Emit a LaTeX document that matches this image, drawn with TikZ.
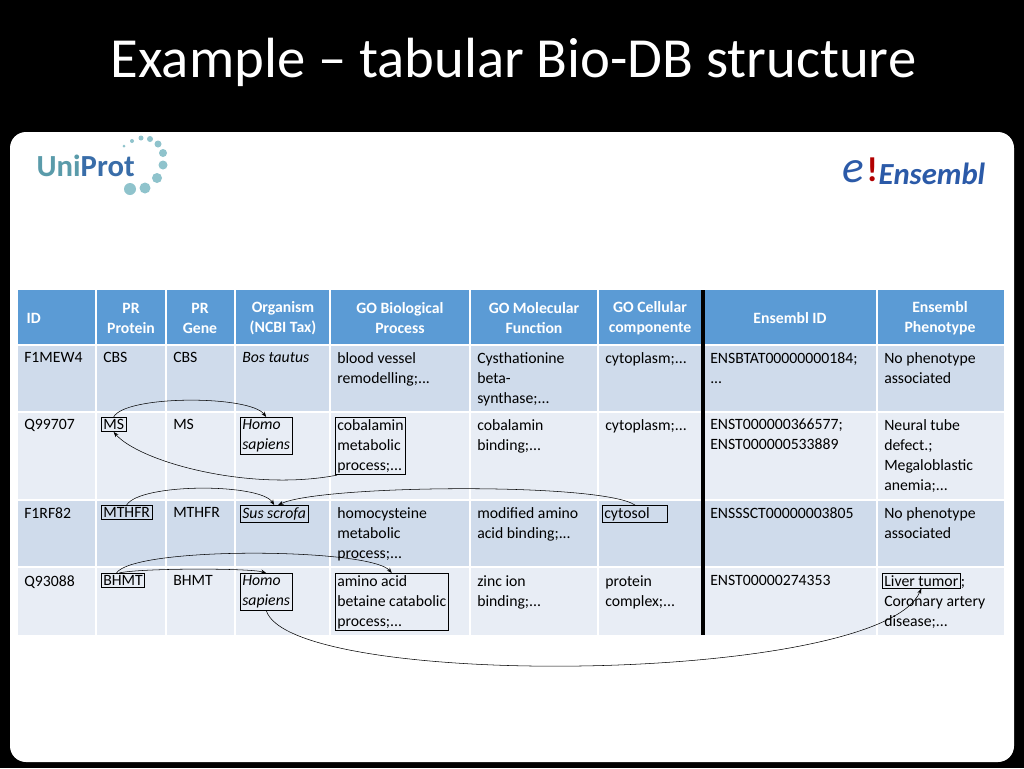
\documentclass[tikz,border=0pt]{standalone}
\usepackage{fontspec}
\setmainfont{Carlito}
\usetikzlibrary{arrows.meta}
\definecolor{hdr}{HTML}{5B9BD5}
\definecolor{rowa}{HTML}{CFDBEB}
\definecolor{rowb}{HTML}{E8EDF5}
\definecolor{uni}{HTML}{5A9BAA}
\definecolor{unil}{HTML}{8FC3CC}
\definecolor{ens}{HTML}{2B5AA8}
\begin{document}
\begin{tikzpicture}[x=0.75pt,y=-0.75pt,
  cell/.style={anchor=north west,inner sep=1.5pt,align=left,font=\fontsize{11.8}{15}\selectfont},
  hcell/.style={align=center,text=white,font=\fontsize{11.8}{15}\selectfont\bfseries},
  bx/.style={draw=black,line width=0.5pt},
  arr/.style={-{Stealth[length=4pt,width=3pt]},line width=0.4pt}]
\useasboundingbox (0,0) rectangle (1024,768);
\fill[black] (0,0) rectangle (1024,768);
\fill[white,rounded corners=12pt] (10,132) rectangle (1014,762);
\node[text=white,font=\fontsize{42.5}{46}\selectfont,anchor=west] (title) at (106,62) {Example -- tabular Bio-DB structure};
% logos
\node[text=uni,font=\fontsize{23}{24}\selectfont\bfseries,anchor=west] (uniprot) at (32,166) {Uni\textcolor{ens!70!uni}{Prot}};
\foreach \x/\y/\r in {124/146/1.5,132/141/2,141/138/2.5,150/139/3,158/144/3.5,163/153/4,163/165/4.5,157/178/5,145/188/5.5,130/189/6}
  \fill[unil] (\x,\y) circle (\r);
\node[anchor=west,font=\fontsize{34}{34}\selectfont\itshape,text=ens] (elogo) at (838,172) {e};
\node[anchor=west,font=\fontsize{26}{26}\selectfont\bfseries,text=red!70!black] (bang) at (862,170) {!};
\node[anchor=west,font=\fontsize{23}{23}\selectfont\bfseries\itshape,text=ens] (enslogo) at (874,174) {Ensembl};
% table backgrounds
\fill[hdr] (18,290) rectangle (1004,345);
\fill[rowa] (18,345) rectangle (1004,412);
\fill[rowb] (18,412) rectangle (1004,500);
\fill[rowa] (18,500) rectangle (1004,567);
\fill[rowb] (18,567) rectangle (1004,635);
\foreach \x in {96,166,235,330,470,598,877} \draw[white,line width=1.2pt] (\x,290) -- (\x,635);
\foreach \y in {345,412,500,567} \draw[white,line width=1.2pt] (18,\y) -- (1004,\y);
\draw[black,line width=3.5pt] (703,290) -- (703,635);
% header
\node[hcell,anchor=west] (h1) at (22,318) {ID};
\node[hcell] (h2) at (131,318) {PR\\Protein};
\node[hcell] (h3) at (200,318) {PR\\Gene};
\node[hcell] (h4) at (283,318) {Organism\\(NCBI Tax)};
\node[hcell] (h5) at (400,318) {GO Biological\\Process};
\node[hcell] (h6) at (534,318) {GO Molecular\\Function};
\node[hcell] (h7) at (650,318) {GO Cellular\\componente};
\node[hcell] (h8) at (790,318) {Ensembl ID};
\node[hcell] (h9) at (940,318) {Ensembl\\Phenotype};
% row 1
\node[cell] (a1) at (22,350) {F1MEW4};
\node[cell] (a2) at (101,350) {CBS};
\node[cell] (a3) at (171,350) {CBS};
\node[cell] (a4) at (240,350) {\itshape Bos tautus};
\node[cell] (a5) at (335,350) {blood vessel\\remodelling;...};
\node[cell] (a6) at (475,350) {Cysthationine\\beta-\\synthase;...};
\node[cell] (a7) at (603,350) {cytoplasm;...};
\node[cell] (a8) at (708,350) {ENSBTAT00000000184;\\...};
\node[cell] (a9) at (882,350) {No phenotype\\associated};
% row 2
\node[cell] (b1) at (22,417) {Q99707};
\node[cell,bx] (b2) at (101,417) {MS};
\node[cell] (b3) at (171,417) {MS};
\node[cell,bx] (b4) at (240,417) {\itshape Homo\\\itshape sapiens};
\node[cell,bx] (b5) at (335,417) {cobalamin\\metabolic\\process;...};
\node[cell] (b6) at (475,417) {cobalamin\\binding;...};
\node[cell] (b7) at (603,417) {cytoplasm;...};
\node[cell] (b8) at (708,417) {ENST000000366577;\\ENST000000533889};
\node[cell] (b9) at (882,417) {Neural tube\\defect.;\\Megaloblastic\\anemia;...};
% row 3
\node[cell] (c1) at (22,505) {F1RF82};
\node[cell,bx] (c2) at (101,505) {MTHFR};
\node[cell] (c3) at (171,505) {MTHFR};
\node[cell,bx] (c4) at (240,505) {\itshape Sus scrofa};
\node[cell] (c5) at (335,505) {homocysteine\\metabolic\\process;...};
\node[cell] (c6) at (475,505) {modified amino\\acid binding;...};
\node[cell,bx] (c7) at (602,505) {cytosol\hspace{12pt}};
\node[cell] (c8) at (708,505) {ENSSSCT00000003805};
\node[cell] (c9) at (882,505) {No phenotype\\associated};
% row 4
\node[cell] (d1) at (22,573) {Q93088};
\node[cell,bx] (d2) at (101,573) {BHMT};
\node[cell] (d3) at (171,573) {BHMT};
\node[cell,bx] (d4) at (240,573) {\itshape Homo\\\itshape sapiens};
\node[cell,bx] (d5) at (335,573) {amino acid\\betaine catabolic\\process;...};
\node[cell] (d6) at (475,573) {zinc ion\\binding;...};
\node[cell] (d7) at (603,573) {protein\\complex;...};
\node[cell] (d8) at (708,573) {ENST00000274353};
\node[cell] (d9) at (882,573) {\phantom{Liver tumor;}\\Coronary artery\\disease;...};
\node[cell,bx] (d9b) at (882,573) {Liver tumor};
\node[anchor=base west,inner sep=0pt,font=\fontsize{11.8}{15}\selectfont] (semi) at (d9b.base east) {;};
% connectors
\draw[arr] (b2.north) .. controls (125,395) and (250,395) .. (b4.north);
\draw[arr] ([xshift=-25]b5.south) .. controls (250,492) and (140,462) .. (b2.south);
\draw[arr] (c2.north) .. controls (140,483) and (260,483) .. (c4.north);
\draw[arr] (c7.north) .. controls (600,482) and (320,485) .. ([xshift=3]c4.north);
\draw[arr] ([xshift=-5]d2.north) .. controls (135,546) and (370,548) .. (d5.north);
\coordinate (bstart) at ([xshift=-3]d2.north);
\draw[arr] (bstart) .. controls (140,568) and (250,568) .. (d4.north);
\draw[arr] (d4.south) .. controls (290,690) and (880,685) .. (d9b.south);
\end{tikzpicture}
\end{document}
